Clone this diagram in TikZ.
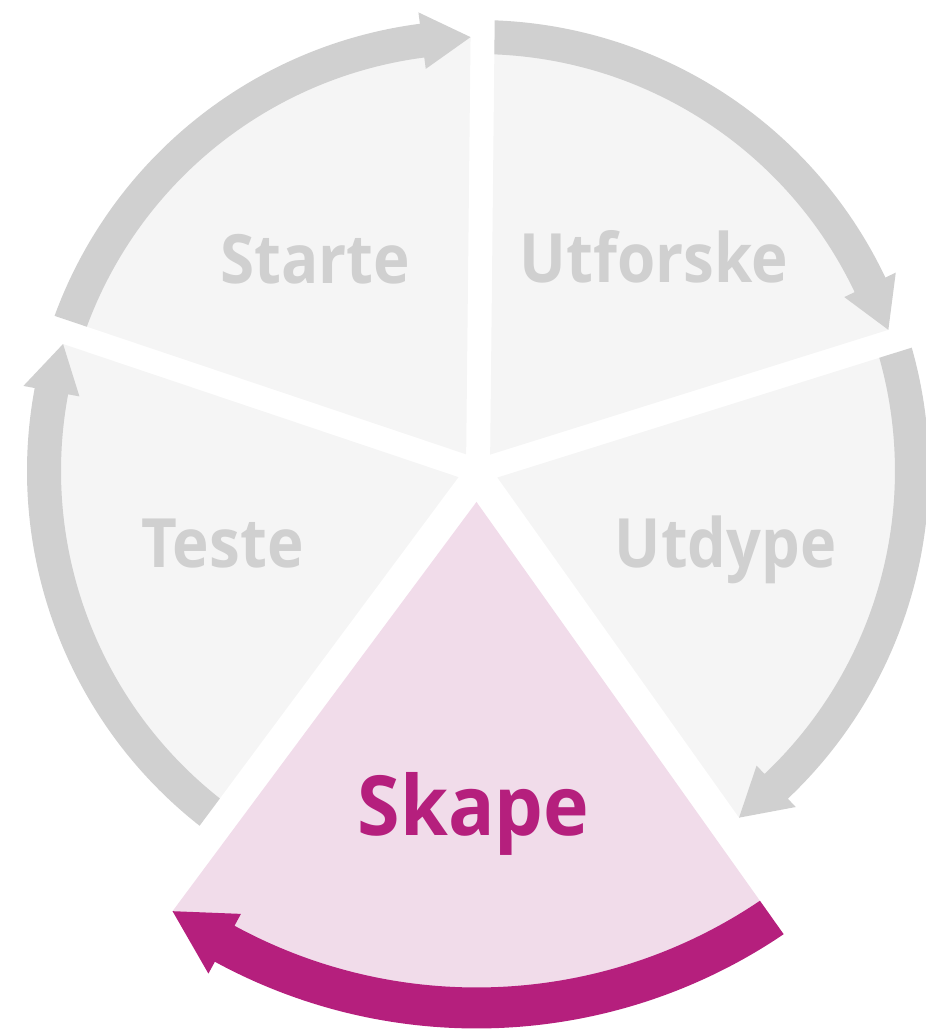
\documentclass[tikz,border=0pt]{standalone}
\usepackage{fontspec}
\usepackage{graphicx}
\setmainfont{Open Sans}
\newcommand\narrowtext[1]{\scalebox{0.91}[1]{#1}}
\definecolor{ringgray}{HTML}{D0D0D0}
\definecolor{sectfill}{HTML}{F5F5F5}
\definecolor{skfill}{HTML}{F1DCEA}
\definecolor{skring}{HTML}{B51F7D}
\newcommand\drawsector[6]{%
 \pgfmathsetmacro\thA{#1}%
 \pgfmathsetmacro\thB{#1+72}%
 \pgfmathsetmacro\rmid{(#2+#3)/2}%
 \pgfmathsetmacro\dmid{asin(12/\rmid)}%
 \pgfmathsetmacro\din{asin(12/#2)}%
 \pgfmathsetmacro\dout{asin(12/#3)}%
 \pgfmathsetmacro\apexr{12/sin(36)}%
 \pgfmathsetmacro\thM{#1+36}%
 \pgfmathsetmacro\thH{#1+8}%
 \pgfmathsetmacro\rwo{\rmid+#4}%
 \pgfmathsetmacro\rwi{\rmid-#4}%
 \pgfmathsetmacro\aS{\thA+\dmid}%
 \pgfmathsetmacro\aE{\thB-\dmid}%
 \pgfmathsetmacro\aO{\thB-\dout}%
 \pgfmathsetmacro\aI{\thB-\din}%
 \fill[#5] (\thM:\apexr) -- (\aS:\rmid) arc[start angle=\aS, end angle=\aE, radius=\rmid] -- cycle;
 \fill[#6] (\aO:#3) arc[start angle=\aO, end angle=\thH, radius=#3] -- (\thH:\rwo) -- (\aS:\rmid) -- (\thH:\rwi) -- (\thH:#2) arc[start angle=\thH, end angle=\aI, radius=#2] -- cycle;
}
\tikzset{
 graylabel/.style={text=ringgray, font=\bfseries\fontsize{68}{68}\selectfont, anchor=base, inner sep=0pt},
 sklabel/.style={text=skring, font=\bfseries\fontsize{83}{83}\selectfont, anchor=base, inner sep=0pt}
}
\begin{document}
\begin{tikzpicture}[x=1pt,y=1pt]
\useasboundingbox (-478,-558) rectangle (448,471);
\begin{scope}[rotate=-0.6]
 \drawsector{90}{417}{451}{28.5}{sectfill}{ringgray}
 \drawsector{18}{417}{451}{28.5}{sectfill}{ringgray}
 \drawsector{-54}{417}{451}{28.5}{sectfill}{ringgray}
 \drawsector{162}{417}{451}{28.5}{sectfill}{ringgray}
\end{scope}
\begin{scope}[shift={(-1.3,-10.5)},rotate=-0.6]
 \drawsector{-126}{506}{547}{34}{skfill}{skring}
\end{scope}
\node[graylabel] (starte) at (-163,188) {\narrowtext{Starte}};
\node[graylabel] (utforske) at (176,189) {\narrowtext{Utforske}};
\node[graylabel] (teste) at (-255.5,-96) {\narrowtext{Teste}};
\node[graylabel] (utdype) at (247.5,-96) {\scalebox{0.9}[1]{Utdype}};
\node[sklabel] (skape) at (-4.5,-364) {\scalebox{0.93}[1]{Skape}};
\end{tikzpicture}
\end{document}
